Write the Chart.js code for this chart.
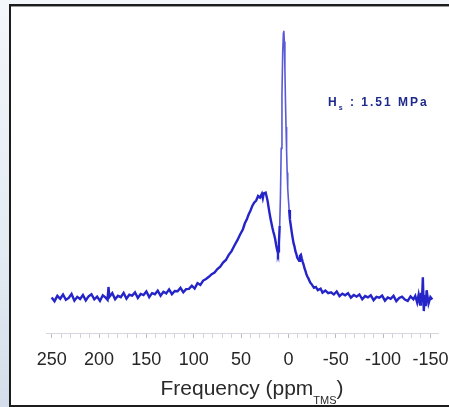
<!DOCTYPE html>
<html>
<head>
<meta charset="utf-8">
<script src="https://cdn.jsdelivr.net/npm/chart.js@4.4.1/dist/chart.umd.min.js"></script>
<style>
	html, body { margin: 0; padding: 0; }
	body {
		width: 449px; height: 407px; position: relative; overflow: hidden;
		background: linear-gradient(180deg, #f3f6fa 0%, #e4ebf3 60%, #d3deea 100%);
	}
	#frame {
		position: absolute; left: 9px; top: 4px; width: 460px; height: 403px;
		box-sizing: border-box; border: 2px solid #1c1c1c; border-right: none;
		box-shadow: inset 0 1px 0 #9a9a9a; background: #fff;
	}
	#nmr { position: absolute; left: 0; top: 0; }
</style>
</head>
<body>
<div id="frame"></div>
<canvas id="nmr" width="449" height="407"></canvas>
<script>
// chemical shift (ppm, TMS) and intensity (arb. units, peak = 100)
const shifts = [
	250, 247, 244, 241, 238, 235, 232, 229, 226, 223, 220, 217, 214, 211, 208, 205, 202, 199, 196, 193,
	191, 190, 189, 186, 183, 180, 177, 174, 171, 168, 165, 162, 159, 156, 153, 150, 147, 144, 141, 138,
	135, 132, 129, 126, 123, 120, 117, 114, 111, 108, 105, 102, 99, 96, 93, 90, 87, 84, 81, 78,
	75, 72, 69, 66, 63, 60, 57, 54, 51, 48, 46, 44, 42, 40, 38, 36, 34, 32, 30, 28,
	27, 26, 24, 23, 22, 21, 20, 19, 18, 17, 16, 15, 14, 13, 12, 11, 10.5, 10, 9.2, 8.4,
	7.6, 6.8, 6.0, 5.3, 4.8, 4.3, 3.7, 3.1, 2.5, 1.9, 1.3, 0.7, 0, -0.8, -1.6, -2.6, -3.6, -4.5, -5.5, -6.4,
	-7.4, -8.4, -9.3, -10.3, -11.3, -12.2, -13.2, -14.1, -15.1, -16.1, -17, -18, -19, -20, -21, -23, -25, -27, -29, -31,
	-34, -36, -39, -42, -45, -48, -51, -54, -57, -60, -63, -66, -69, -72, -75, -78, -81, -84, -87, -90,
	-93, -96, -99, -102, -105, -108, -111, -114, -117, -120, -123, -126, -129, -132, -134, -136, -137.5, -139, -140, -141,
	-142, -143, -144, -145, -146, -148, -150, -152
];
const intensity = [
	0.3, -1.1, 0.9, -0.2, 1.4, -0.6, 0.1, 1.6, -0.9, 0.5, -0.3, 1.2, -0.8, 0.7, 1.5, -0.4, 0.6, -1.0, 1.1, 0.2,
	-0.6, 4.2, 0.5, 1.9, -0.4, 0.9, 0.4, 2.0, -0.2, 1.3, 1.0, 2.2, 0.1, 1.6, 1.2, 2.5, 0.4, 1.9, 1.5, 2.8,
	0.9, 2.4, 1.8, 3.3, 1.5, 2.7, 2.6, 3.9, 2.2, 3.4, 3.5, 4.7, 3.6, 5.6, 5.0, 6.6, 7.2, 8.0, 9.0, 9.6,
	10.9, 11.8, 13.3, 14.3, 16.2, 17.6, 19.7, 21.6, 23.8, 25.8, 28.0, 29.4, 31.3, 32.8, 34.6, 35.8, 36.5, 38.2, 37.6, 39.0,
	37.4, 39.2, 39.5, 38.0, 36.4, 34.2, 32.0, 30.0, 28.2, 26.5, 25.0, 23.7, 22.1, 20.0, 18.2, 16.8, 17.5, 20.5, 27, 38,
	56, 76, 92, 99, 100, 96, 86, 74, 64, 55, 47, 41, 37, 33, 29.5, 27, 24.5, 22.5, 20.5, 19.4,
	17.6, 16.5, 15.2, 14.6, 14.0, 15.8, 16.2, 14.9, 13.6, 12.5, 11.2, 10.2, 9.0, 8.1, 7.5, 5.9, 5.0, 3.9, 4.2, 3.0,
	3.6, 2.1, 2.9, 1.9, 2.2, 1.4, 2.5, 0.8, 1.7, 1.1, 1.9, 0.2, 1.2, 0.6, 1.4, -0.4, 0.8, 0.3, 1.1, -0.7,
	0.5, 0.2, 1.0, -0.9, 0.3, -0.2, 0.9, -1.1, 0.1, 0.6, -0.5, -1.0, 0.7, -0.4, 0.9, -1.6, 1.2, -2.4, 2.0, -1.5,
	7.8, -4.8, 1.2, -3.0, 3.0, -2.0, 0.4, -0.5
];
const tickLabels = [250, 200, 150, 100, 50, 0, -50, -100, -150];
const minorStep = 10;
const axisTitle = 'Frequency (ppm';
const axisTitleSub = 'TMS';
const noteMain = 'H';
const noteSub = 's';
const noteRest = ' : 1.51 MPa';

const overlay = {
	id: 'overlay',
	afterDraw(chart) {
		const ctx = chart.ctx;
		ctx.save();
		// axis title with subscript
		ctx.fillStyle = '#2a2a2a';
		ctx.textBaseline = 'alphabetic';
		ctx.font = '21px "Liberation Sans", Arial, sans-serif';
		const w1 = ctx.measureText(axisTitle).width;
		ctx.font = '11px "Liberation Sans", Arial, sans-serif';
		const w2 = ctx.measureText(axisTitleSub).width;
		ctx.font = '21px "Liberation Sans", Arial, sans-serif';
		const w3 = ctx.measureText(')').width;
		let x = 252 - (w1 + w2 + w3) / 2;
		ctx.fillText(axisTitle, x, 395);
		x += w1;
		ctx.font = '11px "Liberation Sans", Arial, sans-serif';
		ctx.fillText(axisTitleSub, x, 404);
		x += w2;
		ctx.font = '21px "Liberation Sans", Arial, sans-serif';
		ctx.fillText(')', x, 395);

		// pressure note
		ctx.fillStyle = '#1e2a8a';
		ctx.letterSpacing = '2px';
		ctx.font = 'bold 12px "Liberation Sans", Arial, sans-serif';
		x = 328;
		ctx.fillText(noteMain, x, 106);
		x += ctx.measureText(noteMain).width;
		ctx.font = 'bold 7px "Liberation Sans", Arial, sans-serif';
		ctx.fillText(noteSub, x, 110);
		x += ctx.measureText(noteSub).width;
		ctx.font = 'bold 12px "Liberation Sans", Arial, sans-serif';
		ctx.fillText(noteRest, x, 106);
		ctx.restore();
	}
};

const ctx = document.getElementById('nmr').getContext('2d');
const chart = new Chart(ctx, {
	type: 'line',
	data: {
		datasets: [{
			data: shifts.map((s, i) => ({x: s, y: intensity[i]})),
			borderColor: '#2424c8',
			borderWidth: 2.4,
			pointRadius: 0,
			tension: 0,
			segment: {
				borderColor: c => (c.p0.parsed.x < 10 && c.p1.parsed.x > -1) ? '#5a5ad6' : undefined,
				borderWidth: c => (c.p0.parsed.x < 10 && c.p1.parsed.x > -1) ? 1.6 : undefined
			}
		}]
	},
	options: {
		responsive: false,
		animation: false,
		layout: { autoPadding: false, padding: { left: 46, right: 11, top: 20, bottom: 0 } },
		plugins: { legend: { display: false }, tooltip: { enabled: false } },
		scales: {
			x: {
				type: 'linear',
				reverse: true,
				min: -158,
				max: 256,
				afterBuildTicks: scale => {
					const t = [];
					for (let v = tickLabels[0]; v >= tickLabels[tickLabels.length - 1]; v -= minorStep) t.push({value: v});
					scale.ticks = t;
				},
				afterFit: scale => {
					scale.height = 74;
					scale.paddingLeft = 0;
					scale.paddingRight = 0;
				},
				grid: {
					drawOnChartArea: false,
					drawTicks: true,
					tickLength: 5,
					color: c => (tickLabels.includes(c.tick && c.tick.value) ? '#b8b8c6' : '#d2d2dc')
				},
				border: { display: true, color: '#d6d6e0', width: 1 },
				ticks: {
					autoSkip: false,
					maxRotation: 0,
					padding: 11,
					color: '#262626',
					font: { family: '"Liberation Sans", Arial, sans-serif', size: 18 },
					callback: v => (tickLabels.includes(v) ? String(v) : '')
				}
			},
			y: {
				display: false,
				min: -13,
				max: 104
			}
		}
	},
	plugins: [overlay]
});
</script>
</body>
</html>
